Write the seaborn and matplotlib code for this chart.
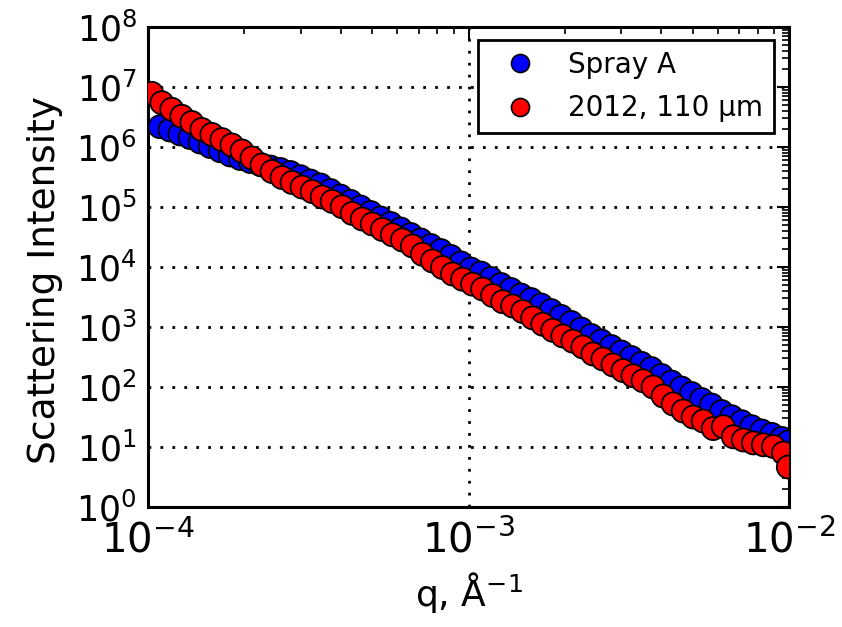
import pandas as pd
import numpy as np
import matplotlib
matplotlib.use('Agg')
import matplotlib.pyplot as plt
import seaborn as sns
from matplotlib.lines import Line2D
from matplotlib.ticker import LogLocator, NullFormatter

# --- data (q in 1/Angstrom) ---
q_spray = [1.090e-4, 1.171e-4, 1.259e-4, 1.353e-4, 1.454e-4, 1.563e-4, 1.679e-4, 1.805e-4,
           1.940e-4, 2.085e-4, 2.240e-4, 2.408e-4, 2.588e-4, 2.781e-4, 2.989e-4, 3.212e-4,
           3.452e-4, 3.710e-4, 3.987e-4, 4.285e-4, 4.605e-4, 4.949e-4, 5.319e-4, 5.716e-4,
           6.143e-4, 6.602e-4, 7.095e-4, 7.625e-4, 8.195e-4, 8.807e-4, 9.465e-4, 1.0172e-3,
           1.0932e-3, 1.1749e-3, 1.2626e-3, 1.357e-3, 1.458e-3, 1.567e-3, 1.684e-3, 1.810e-3,
           1.945e-3, 2.091e-3, 2.247e-3, 2.415e-3, 2.595e-3, 2.789e-3, 2.997e-3, 3.221e-3,
           3.462e-3, 3.720e-3, 3.998e-3, 4.297e-3, 4.618e-3, 4.963e-3, 5.333e-3, 5.732e-3,
           6.160e-3, 6.620e-3, 7.115e-3, 7.646e-3, 8.217e-3, 8.831e-3, 9.491e-3, 9.95e-3]
I_spray = [2.18e6, 1.92e6, 1.65e6, 1.44e6, 1.21e6, 1.02e6, 8.67e5, 7.36e5,
           6.43e5, 5.73e5, 5.11e5, 4.64e5, 4.22e5, 3.76e5, 3.20e5, 2.71e5,
           2.33e5, 1.88e5, 1.52e5, 1.24e5, 1.00e5, 8.10e4, 6.56e4, 5.31e4,
           4.30e4, 3.48e4, 2.82e4, 2.28e4, 1.88e4, 1.50e4, 1.17e4, 9.26e3,
           7.94e3, 6.43e3, 5.11e3, 4.22e3, 3.41e3, 2.87e3, 2.33e3, 1.88e3,
           1.50e3, 1.19e3, 9.26e2, 7.22e2, 5.84e2, 4.73e2, 3.83e2, 3.10e2,
           2.48e2, 2.03e2, 1.56e2, 1.21e2, 96.2, 77.9, 61.9, 50.1,
           39.0, 32.0, 26.4, 21.8, 18.5, 16.2, 13.9, 12.1]

q_2012 = [1.027e-4, 1.104e-4, 1.186e-4, 1.275e-4, 1.370e-4, 1.472e-4, 1.582e-4, 1.700e-4,
          1.827e-4, 1.964e-4, 2.110e-4, 2.268e-4, 2.437e-4, 2.619e-4, 2.815e-4, 3.025e-4,
          3.251e-4, 3.494e-4, 3.755e-4, 4.035e-4, 4.337e-4, 4.661e-4, 5.009e-4, 5.383e-4,
          5.785e-4, 6.217e-4, 6.682e-4, 7.181e-4, 7.717e-4, 8.294e-4, 8.913e-4, 9.579e-4,
          1.0295e-3, 1.1064e-3, 1.189e-3, 1.278e-3, 1.373e-3, 1.476e-3, 1.586e-3, 1.705e-3,
          1.832e-3, 1.969e-3, 2.116e-3, 2.274e-3, 2.444e-3, 2.626e-3, 2.823e-3, 3.034e-3,
          3.260e-3, 3.504e-3, 3.765e-3, 4.047e-3, 4.349e-3, 4.674e-3, 5.023e-3, 5.398e-3,
          5.802e-3, 6.235e-3, 6.701e-3, 7.201e-3, 7.739e-3, 8.317e-3, 8.938e-3, 9.606e-3,
          9.95e-3]
I_2012 = [7.85e6, 5.47e6, 4.25e6, 3.25e6, 2.56e6, 1.96e6, 1.62e6, 1.33e6,
          1.08e6, 8.58e5, 6.56e5, 5.01e5, 3.90e5, 3.10e5, 2.56e5, 2.15e5,
          1.81e5, 1.47e5, 1.24e5, 1.01e5, 7.82e4, 6.31e4, 5.21e4, 4.22e4,
          3.44e4, 2.82e4, 2.24e4, 1.63e4, 1.26e4, 9.81e3, 7.64e3, 6.26e3,
          5.17e3, 4.30e3, 3.35e3, 2.64e3, 2.24e3, 1.81e3, 1.42e3, 1.11e3,
          8.81e2, 7.08e2, 5.80e2, 4.64e2, 3.55e2, 2.93e2, 2.33e2, 1.88e2,
          1.54e2, 1.27e2, 1.00e2, 70.8, 52.1, 39.8, 31.6, 27.1,
          20.3, 21.8, 14.8, 13.1, 11.7, 10.9, 10.2, 7.94,
          4.64]

labels = ['Spray A', '2012, 110 μm']
colors = {'Spray A': 'blue', '2012, 110 μm': 'red'}

df = pd.concat([
    pd.DataFrame({'q': q_spray, 'I': I_spray, 'series': labels[0]}),
    pd.DataFrame({'q': q_2012, 'I': I_2012, 'series': labels[1]}),
]).reset_index(drop = True)

sns.set_style('white', {'xtick.direction': 'in', 'ytick.direction': 'in',
                        'text.color': 'black', 'axes.labelcolor': 'black',
                        'xtick.color': 'black', 'ytick.color': 'black'})
plt.rcParams['font.family'] = ['DejaVu Sans']
plt.rcParams['mathtext.fontset'] = 'dejavusans'

fig = plt.figure(figsize = (8.42, 6.27), dpi = 100)
ax = fig.add_axes([148 / 842, 1 - 507 / 627, 641 / 842, 480 / 627])

sns.scatterplot(ax = ax, data = df, x = 'q', y = 'I', hue = 'series',
                palette = colors, s = 275, edgecolor = 'black', linewidth = 1.3,
                legend = False, zorder = 3)

ax.set_xscale('log')
ax.set_yscale('log')
ax.set_xlim(1e-4, 1e-2)
ax.set_ylim(1e0, 1e8)

ax.yaxis.set_major_locator(LogLocator(base = 10, numticks = 12))
ax.yaxis.set_minor_locator(LogLocator(base = 10, subs = np.arange(2, 10), numticks = 12))
ax.yaxis.set_minor_formatter(NullFormatter())
ax.xaxis.set_minor_formatter(NullFormatter())

ax.grid(True, which = 'major', color = 'black', linestyle = (0, (1, 3.3)), linewidth = 2)
ax.set_axisbelow(True)

for sp in ax.spines.values():
    sp.set_linewidth(2.2)
    sp.set_color('black')

ax.tick_params(which = 'both', direction = 'in', top = True, right = True,
               color = 'black', labelcolor = 'black')
ax.tick_params(which = 'major', length = 9, width = 1.5)
ax.tick_params(which = 'minor', length = 5, width = 1.2)
ax.tick_params(axis = 'x', which = 'major', labelsize = 29, pad = 10)
ax.tick_params(axis = 'y', which = 'major', labelsize = 25, pad = 8)

ax.set_xlabel(r'q, $\mathrm{\AA}^{-1}$', fontsize = 26, labelpad = 6, color = 'black')
ax.set_ylabel('Scattering Intensity', fontsize = 27, color = 'black')
ax.yaxis.set_label_coords(-0.133, 0.473)

handles = [Line2D([], [], linestyle = 'none', marker = 'o', markersize = 13,
                  markerfacecolor = colors[lab], markeredgecolor = 'black',
                  markeredgewidth = 1.2) for lab in labels]
leg = ax.legend(handles, labels, loc = 'upper right', bbox_to_anchor = (0.977, 0.973),
                borderaxespad = 0, fontsize = 20, numpoints = 1, frameon = True,
                fancybox = False, handlelength = 2.2, handletextpad = 0.65,
                borderpad = 0.4, labelspacing = 0.55)
for t in leg.get_texts():
    t.set_color('black')
leg.get_frame().set_edgecolor('black')
leg.get_frame().set_linewidth(2)
leg.get_frame().set_alpha(1)

fig.savefig('out.png', dpi = 100)
